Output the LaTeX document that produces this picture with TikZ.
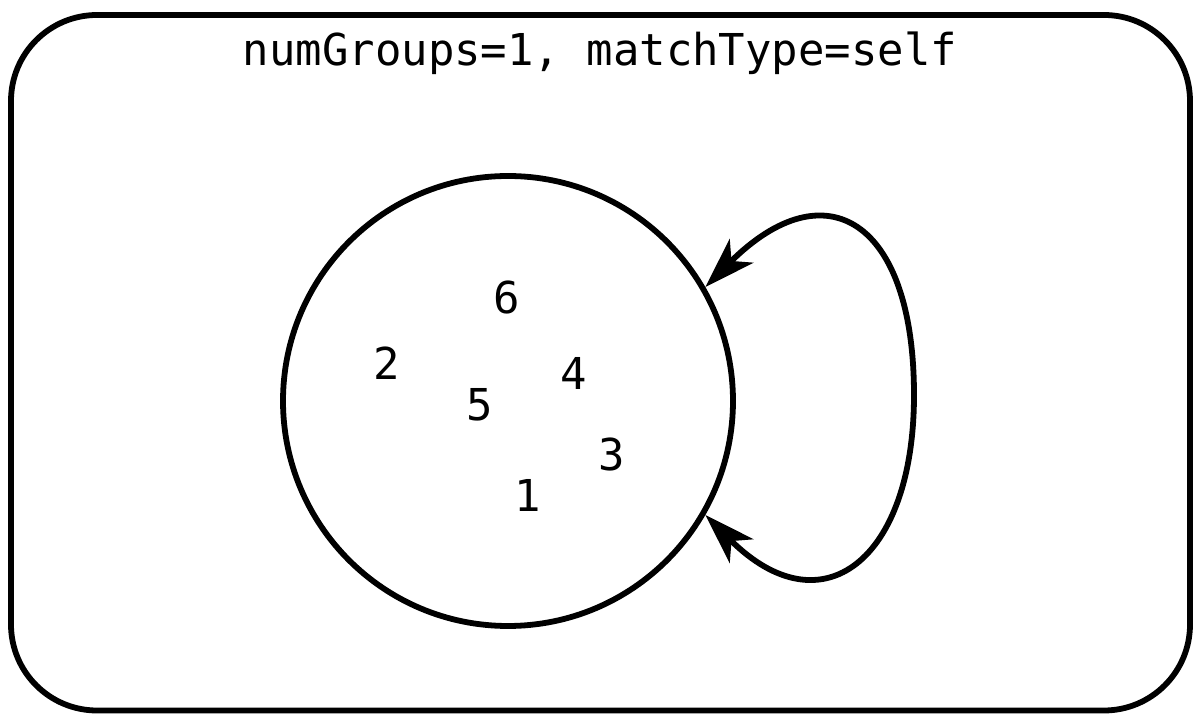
\documentclass[tikz,border=0pt]{standalone}
\usepackage{fontspec}
\setmonofont{DejaVu Sans Mono}
\usepackage{tikz}
\usetikzlibrary{arrows.meta}

\tikzset{
    num/.style={font=\ttfamily\fontsize{25}{30}\selectfont},
}

\begin{document}
\begin{tikzpicture}[line width=3.3pt, >={Stealth[length=29pt, width=19pt, inset=8pt]}]
    \useasboundingbox (0,0) rectangle (24.04,14.52);

    % Frame
    \node[draw, rounded corners=1.72cm, minimum width=23.58cm, minimum height=13.91cm, inner sep=0pt] (frame) at (12.01,7.265) {};
    \node[num] (title) at (12.0,13.46) {numGroups=1, matchType=self};

    % Group
    \node[draw, circle, minimum size=9cm, inner sep=0pt] (grp) at (10.16,6.5) {};
    \node[num] (n6) at (10.14,8.56) {6};
    \node[num] (n2) at (7.74,7.26) {2};
    \node[num] (n4) at (11.48,7.06) {4};
    \node[num] (n5) at (9.6,6.42) {5};
    \node[num] (n3) at (12.24,5.42) {3};
    \node[num] (n1) at (10.56,4.62) {1};

    % Self loop
    \coordinate (turn) at (18.28,6.62);
    \draw[<->] (grp.30) .. controls +(45:3.4) and +(0,3.5) .. (turn)
        .. controls +(0,-3.3) and +(-45:3.3) .. (grp.-30);
\end{tikzpicture}
\end{document}
